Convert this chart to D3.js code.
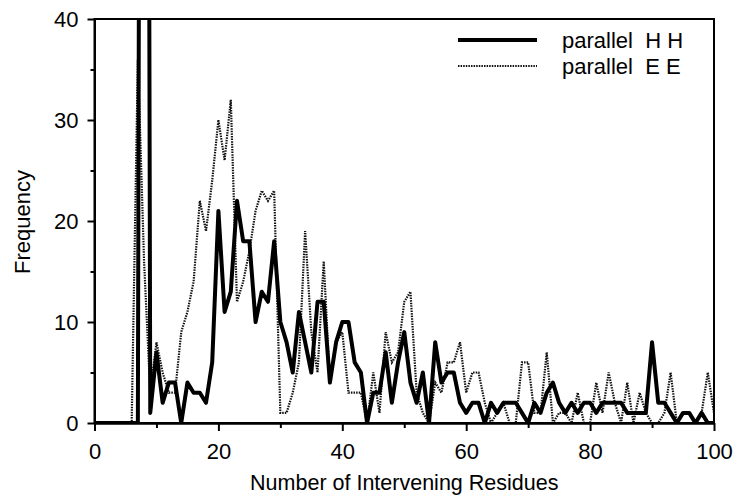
<!DOCTYPE html>
<html lang="en">
<head>
<meta charset="utf-8">
<title>Parallel H H / E E spacing</title>
<script src="https://d3js.org/d3.v7.min.js"></script>
<style>
  body { margin: 0; background: #fff; }
  svg text { font-family: "Liberation Sans", Arial, Helvetica, sans-serif; fill: #000; }
</style>
</head>
<body>
<div class="chart"></div>
<script>
// frequency per number of intervening residues (index = residues, 0..100)
const hhCounts = [
  0, 0, 0, 0, 0, 0, 0, 0, 260, 1,   // 0-9
  7, 2, 4, 4, 0, 4, 3, 3, 2, 6,      // 10-19
  21, 11, 13, 22, 18, 18, 10, 13, 12, 18, // 20-29
  10, 8, 5, 11, 8, 5, 12, 12, 4, 8,  // 30-39
  10, 10, 6, 5, 0, 3, 3, 7, 2, 6,    // 40-49
  9, 4, 2, 5, 0, 8, 4, 5, 5, 2,      // 50-59
  1, 2, 2, 0, 2, 1, 2, 2, 2, 1,      // 60-69
  0, 2, 1, 3, 4, 2, 1, 2, 1, 2,      // 70-79
  2, 1, 2, 2, 2, 2, 1, 1, 1, 1,      // 80-89
  8, 2, 2, 1, 0, 1, 1, 0, 1, 0,      // 90-99
  0                                  // 100
];
const eeCounts = [
  0, 0, 0, 0, 0, 0, 0, 36, 16, 3,    // 0-9
  8, 5, 3, 3, 9, 11, 14, 22, 19, 24, // 10-19
  30, 26, 32, 12, 14, 17, 21, 23, 22, 23, // 20-29
  1, 1, 3, 6, 19, 9, 5, 16, 4, 8,    // 30-39
  9, 3, 3, 3, 0, 5, 1, 9, 6, 7,      // 40-49
  12, 13, 3, 1, 0, 4, 3, 6, 6, 8,    // 50-59
  3, 5, 5, 2, 0, 1, 2, 0, 0, 6,      // 60-69
  6, 1, 1, 7, 0, 1, 1, 0, 3, 0,      // 70-79
  0, 4, 1, 5, 2, 0, 4, 0, 3, 1,      // 80-89
  0, 0, 1, 5, 0, 0, 0, 0, 1, 5,      // 90-99
  1                                  // 100
];
const seriesNames = ["parallel  H H", "parallel  E E"];
const xTicks = [0, 20, 40, 60, 80, 100];
const xMinor = [10, 30, 50, 70, 90];
const yTicks = [0, 10, 20, 30, 40];
const yMinor = [5, 15, 25, 35];

const width = 735, height = 498;
const plotLeft = 94.5, plotRight = 714, plotTop = 19, plotBottom = 423;

const svg = d3.select(".chart").append("svg")
  .attr("width", width)
  .attr("height", height);

const x = d3.scaleLinear().domain([0, 100]).range([plotLeft, plotRight]);
const y = d3.scaleLinear().domain([0, 40]).range([plotBottom, plotTop]);

svg.append("clipPath").attr("id", "plot-clip")
  .append("rect")
  .attr("x", plotLeft).attr("y", plotTop)
  .attr("width", plotRight - plotLeft).attr("height", plotBottom - plotTop);

// lines
const line = d3.line()
  .x((d, i) => x(i))
  .y(d => y(d));

svg.append("path")
  .datum(eeCounts)
  .attr("clip-path", "url(#plot-clip)")
  .attr("fill", "none")
  .attr("stroke", "#111")
  .attr("stroke-width", 2.2)
  .attr("stroke-dasharray", "1.5,1.1")
  .attr("d", line);

svg.append("path")
  .datum(hhCounts)
  .attr("clip-path", "url(#plot-clip)")
  .attr("fill", "none")
  .attr("stroke", "#000")
  .attr("stroke-width", 4)
  .attr("stroke-linejoin", "round")
  .attr("d", line);

// frame (top + right)
svg.append("rect")
  .attr("x", plotLeft).attr("y", plotTop)
  .attr("width", plotRight - plotLeft).attr("height", plotBottom - plotTop)
  .attr("fill", "none")
  .attr("stroke", "#000")
  .attr("stroke-width", 2);

// axes
svg.append("g")
  .attr("transform", `translate(0,${plotBottom})`)
  .call(d3.axisBottom(x).tickValues(xTicks).tickSize(8).tickSizeOuter(0).tickPadding(12));
svg.append("g")
  .attr("transform", `translate(0,${plotBottom})`)
  .call(d3.axisBottom(x).tickValues(xMinor).tickSize(5).tickSizeOuter(0).tickFormat(""));

svg.append("g")
  .attr("transform", `translate(${plotLeft},0)`)
  .call(d3.axisLeft(y).tickValues(yTicks).tickSize(7).tickSizeOuter(0).tickPadding(9));
svg.append("g")
  .attr("transform", `translate(${plotLeft},0)`)
  .call(d3.axisLeft(y).tickValues(yMinor).tickSize(4).tickSizeOuter(0).tickFormat(""));

svg.selectAll(".domain").attr("stroke", "#000").attr("stroke-width", 2);
svg.selectAll(".tick line").attr("stroke", "#000").attr("stroke-width", 2);
svg.selectAll(".tick text")
  .attr("font-size", 22)
  .attr("font-family", "'Liberation Sans', Arial, Helvetica, sans-serif")
  .attr("fill", "#000");

// axis titles
svg.append("text")
  .attr("x", (plotLeft + plotRight) / 2)
  .attr("y", 490)
  .attr("text-anchor", "middle")
  .attr("font-size", 21.5)
  .text("Number of Intervening Residues");

svg.append("text")
  .attr("transform", "translate(30,222) rotate(-90)")
  .attr("text-anchor", "middle")
  .attr("font-size", 22)
  .text("Frequency");

// legend
const legend = svg.append("g");
const legendRows = [
  {name: seriesNames[0], w: 4, dash: null, color: "#000", ly: 40},
  {name: seriesNames[1], w: 2.2, dash: "1.5,1.1", color: "#111", ly: 66}
];
legendRows.forEach(r => {
  legend.append("line")
    .attr("x1", 458).attr("x2", 537)
    .attr("y1", r.ly).attr("y2", r.ly)
    .attr("stroke", r.color)
    .attr("stroke-width", r.w)
    .attr("stroke-dasharray", r.dash);
  legend.append("text")
    .attr("x", 562)
    .attr("y", r.ly + 8)
    .attr("font-size", 22)
    .style("white-space", "pre")
    .text(r.name);
});
</script>
</body>
</html>
